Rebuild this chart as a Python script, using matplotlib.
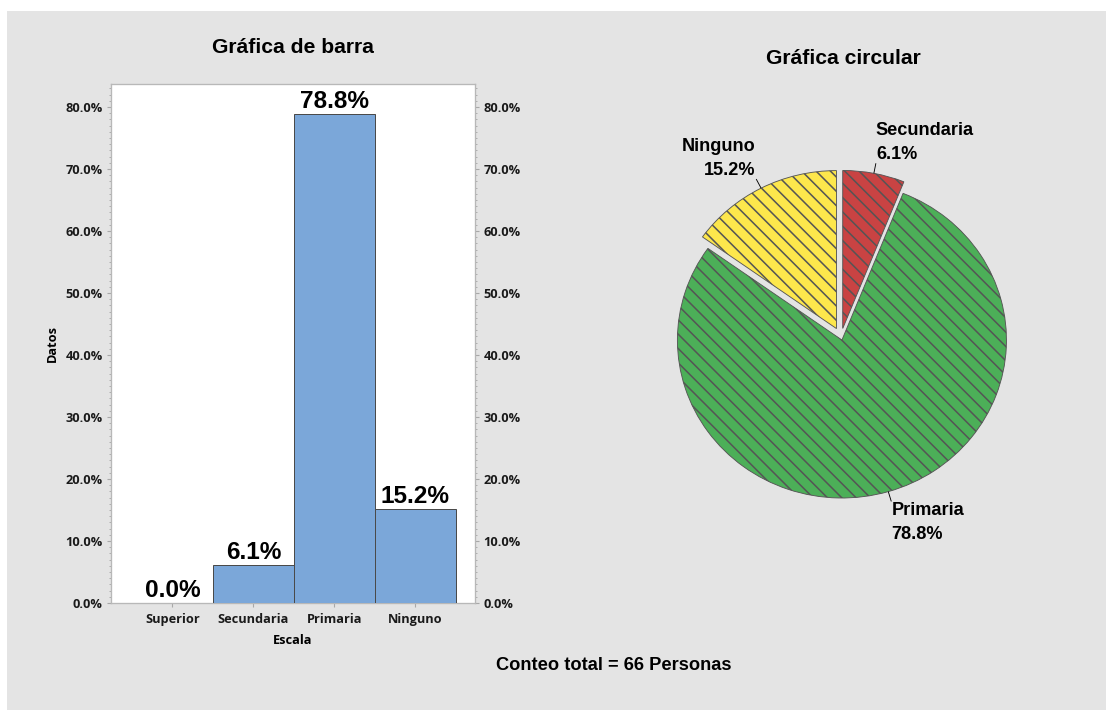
import matplotlib
matplotlib.use("Agg")
import matplotlib.pyplot as plt
from matplotlib.patches import Rectangle
from matplotlib.ticker import MultipleLocator, FuncFormatter
import numpy as np

# ---- data -------------------------------------------------------------
categories = ["Superior", "Secundaria", "Primaria", "Ninguno"]
counts = [0, 4, 52, 10]          # personas por nivel de escolaridad
bar_color = "#7ba7d9"
slice_colors = ["#7ba7d9", "#c94343", "#4caf58", "#fde74c"]
explode_amounts = [0.0, 0.055, 0.02, 0.06]

total = sum(counts)
percents = [100.0 * c / total for c in counts]

# ---- figure -------------------------------------------------------------
DPI = 86
W, H = 1106, 710
K = 80 / DPI          # sizes below are tuned in points at 80 dpi


def pt(v):
    return v * K


plt.rcParams["hatch.linewidth"] = pt(1.4)
fig = plt.figure(figsize=((W + 0.01) / DPI, (H + 0.01) / DPI), dpi=DPI,
                 facecolor="white")


def px_box(x0, y0, x1, y1):
    """Pixel box (origin top-left) -> figure-fraction rect."""
    return [x0 / W, 1 - y1 / H, (x1 - x0) / W, (y1 - y0) / H]


def fx(px):
    return px / W


def fy(py):
    return 1 - py / H


fig.patches.append(Rectangle((7 / W, 0), 1 - 7 / W, 1 - 11 / H,
                             transform=fig.transFigure, facecolor="#e4e4e4",
                             edgecolor="none", zorder=-10))

TITLE_FONT = dict(family="Liberation Sans", fontweight="bold", fontsize=pt(19))
TICK_FONT = dict(family="Open Sans", fontweight="bold", fontsize=pt(11.5))

# ---- bar chart ------------------------------------------------------------
ax = fig.add_axes(px_box(111, 84, 475, 603))
ax.set_facecolor("white")
xpos = np.arange(len(categories))
bars = ax.bar(xpos, percents, width=1.0, color=bar_color,
              edgecolor="#4a4a4a", linewidth=pt(0.9), zorder=3)
ax.bar_label(bars, labels=[f"{p:.1f}%" for p in percents], padding=pt(1),
             fontsize=pt(22), fontweight="bold", family="Liberation Sans")

ax.set_xlim(-0.76, 3.74)
ax.set_ylim(0, 83.7)
ax.set_xticks(xpos)
ax.set_xticklabels(categories, **TICK_FONT)
ax.yaxis.set_major_locator(MultipleLocator(10))
ax.yaxis.set_minor_locator(MultipleLocator(1))
ax.yaxis.set_major_formatter(FuncFormatter(lambda v, _: f"{v:.1f}%"))
ax.tick_params(axis="y", which="both", left=True, right=True,
               labelleft=True, labelright=True, color="#a8a8a8",
               labelcolor="#1a1a1a")
ax.tick_params(axis="y", which="major", length=pt(4), width=pt(1),
               pad=pt(3.6))
ax.tick_params(axis="y", which="minor", length=pt(2), width=pt(0.8))
ax.tick_params(axis="x", length=pt(4), width=pt(1), color="#a8a8a8",
               labelcolor="#1a1a1a", pad=pt(5))
for t in ax.yaxis.get_major_ticks():
    for lab in (t.label1, t.label2):
        lab.set_fontfamily(TICK_FONT["family"])
        lab.set_fontweight(TICK_FONT["fontweight"])
        lab.set_fontsize(TICK_FONT["fontsize"])
for sp in ax.spines.values():
    sp.set_color("#b8b8b8")
    sp.set_linewidth(pt(1.2))

fig.text(fx(293), fy(47), "Gráfica de barra", ha="center", va="center",
         **TITLE_FONT)
fig.text(fx(52), fy(343), "Datos", ha="center", va="center", rotation=90,
         **TICK_FONT)
fig.text(fx(293), fy(640), "Escala", ha="center", va="center", **TICK_FONT)

# ---- pie chart ------------------------------------------------------------
pax = fig.add_axes(px_box(611, 107, 1071, 567))
shown = [i for i, c in enumerate(counts) if c > 0]
wedges, _ = pax.pie([counts[i] for i in shown],
                    colors=[slice_colors[i] for i in shown],
                    explode=[explode_amounts[i] for i in shown],
                    startangle=90, counterclock=False,
                    wedgeprops=dict(edgecolor="#555555", linewidth=pt(0.8),
                                    hatch="\\\\"))
pax.set_aspect("auto")
pax.set_xlim(-1.398, 1.398)
pax.set_ylim(-1.456, 1.456)
pax.axis("off")

PIE_FONT = dict(family="Liberation Sans", fontweight="bold",
                fontsize=pt(16.3))
# text placement for each slice: (horizontal alignment, x offset pt, above?)
label_layout = {"Secundaria": ("left", 0, True),
                "Primaria": ("left", 0, False),
                "Ninguno": ("right", -1, True)}
for w, i in zip(wedges, shown):
    theta = np.deg2rad((w.theta1 + w.theta2) / 2)
    cx, cy = w.center
    d = np.array([np.cos(theta), np.sin(theta)])
    p0 = np.array([cx, cy]) + 1.0 * d
    p1 = np.array([cx, cy]) + 1.065 * d
    pax.plot([p0[0], p1[0]], [p0[1], p1[1]], color="black", lw=pt(0.8),
             solid_capstyle="butt")
    ha, dx, up = label_layout[categories[i]]
    s = 1 if up else -1
    name, value = categories[i], f"{percents[i]:.1f}%"
    pax.annotate(value if up else name, p1, xytext=(pt(dx), pt(s * 8.1)),
                 textcoords="offset points", ha=ha, va="center", **PIE_FONT)
    pax.annotate(name if up else value, p1, xytext=(pt(dx), pt(s * 29.5)),
                 textcoords="offset points", ha=ha, va="center", **PIE_FONT)

fig.text(fx(843), fy(58), "Gráfica circular", ha="center", va="center",
         **TITLE_FONT)
fig.text(fx(614), fy(665), f"Conteo total = {total} Personas",
         ha="center", va="center", family="Liberation Sans",
         fontweight="bold", fontsize=pt(16.4))

fig.savefig("out.png", dpi=DPI)
